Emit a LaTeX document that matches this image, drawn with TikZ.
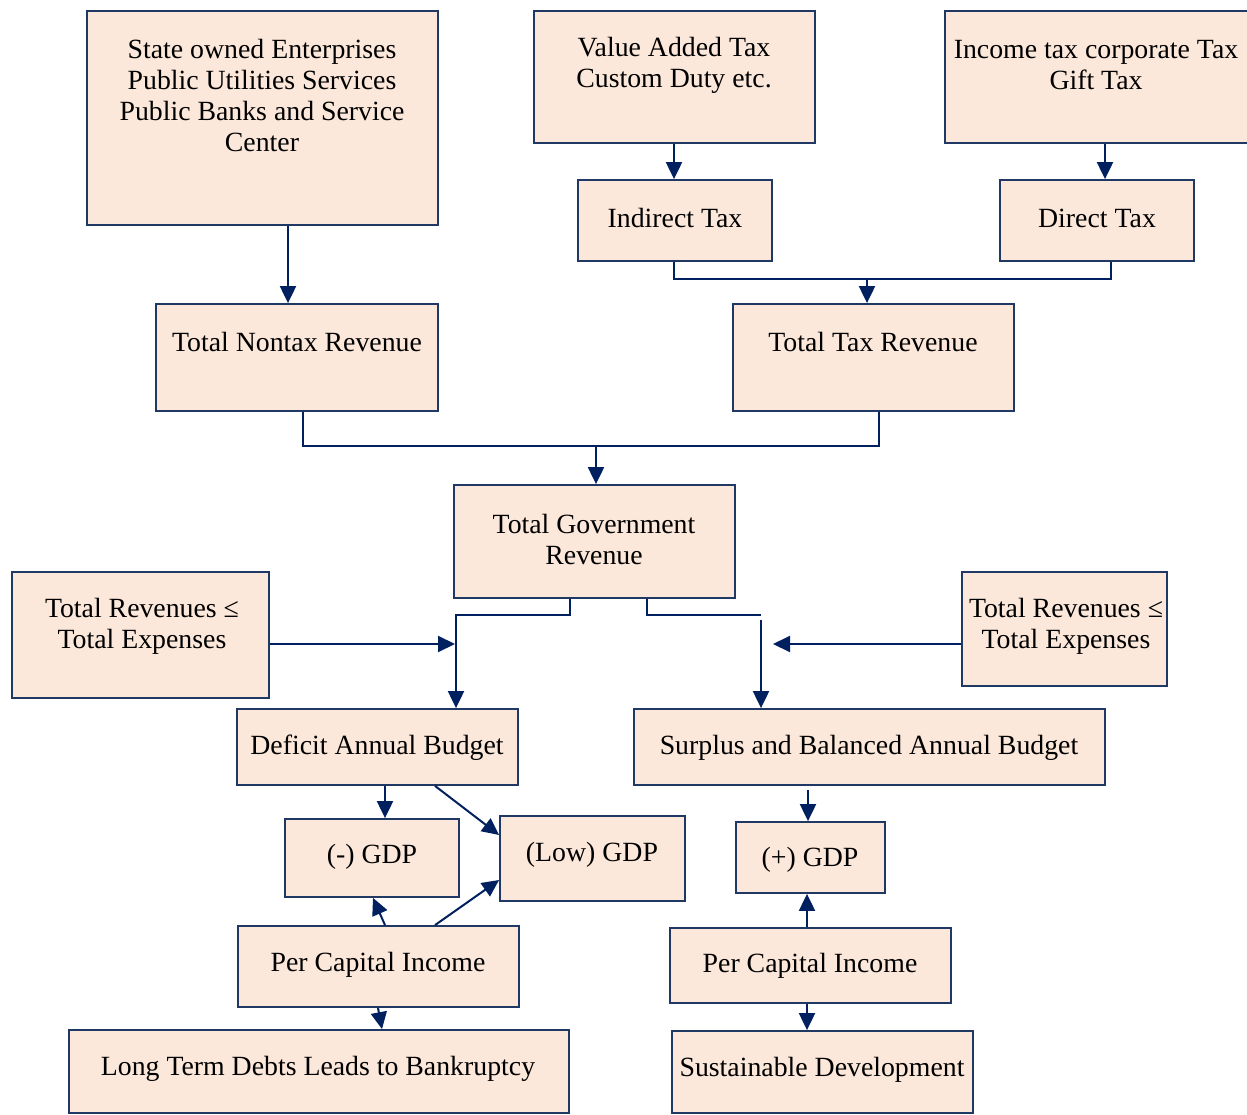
\documentclass[tikz,border=0pt]{standalone}
\usepackage{fontspec}
\setmainfont{Liberation Serif}
\usetikzlibrary{arrows.meta,fit}
\definecolor{boxfill}{HTML}{FCE8DA}
\definecolor{boxline}{HTML}{1F3864}
\definecolor{arrcol}{HTML}{002060}
\begin{document}
\begin{tikzpicture}[x=1pt,y=-1pt,
  boxst/.style={draw=boxline,fill=boxfill,line width=1.8pt,inner sep=0pt,rectangle},
  txt/.style={align=center,font=\fontsize{27.8}{31}\selectfont,inner sep=0pt,text=black},
  conn/.style={draw=arrcol,line width=2pt},
  arr/.style={conn,-{Triangle[length=17pt,width=16pt]}}]
\useasboundingbox (0,0) rectangle (1247,1115);
% boxes
\node[boxst,fit={(87,11) (438,225)}] (soe) {};
\node[boxst,fit={(534,11) (815,143)}] (vat) {};
\node[boxst,fit={(945,11) (1256,143)}] (inc) {};
\node[boxst,fit={(578,180) (772,261)}] (indirect) {};
\node[boxst,fit={(1000,180) (1194,261)}] (direct) {};
\node[boxst,fit={(156,304) (438,411)}] (nontax) {};
\node[boxst,fit={(733,304) (1014,411)}] (taxrev) {};
\node[boxst,fit={(454,485) (735,598)}] (tgr) {};
\node[boxst,fit={(12,572) (269,698)}] (trl) {};
\node[boxst,fit={(962,572) (1167,686)}] (trr) {};
\node[boxst,fit={(237,709) (518,785)}] (deficit) {};
\node[boxst,fit={(634,709) (1105,785)}] (surplus) {};
\node[boxst,fit={(285,819) (459,897)}] (ngdp) {};
\node[boxst,fit={(500,816) (685,901)}] (lowgdp) {};
\node[boxst,fit={(736,822) (885,893)}] (pgdp) {};
\node[boxst,fit={(238,926) (519,1007)}] (pcil) {};
\node[boxst,fit={(670,928) (951,1003)}] (pcir) {};
\node[boxst,fit={(69,1030) (569,1113)}] (longterm) {};
\node[boxst,fit={(672,1031) (973,1113)}] (sust) {};
% texts
\node[txt] (t1) at (262,95) {State owned Enterprises\\Public Utilities Services\\Public Banks and Service\\Center};
\node[txt] (t2) at (674,65) {Value Added Tax\\Custom Duty etc.};
\node[txt] (t3) at (1096,65) {Income tax corporate Tax\\Gift Tax};
\node[txt] (t4) at (675,218) {Indirect Tax};
\node[txt] (t5) at (1097,218) {Direct Tax};
\node[txt] (t6) at (297,342) {Total Nontax Revenue};
\node[txt] (t7) at (873,342) {Total Tax Revenue};
\node[txt] (t8) at (594,539) {Total Government\\Revenue};
\node[txt] (t9) at (142,626) {Total Revenues ≤\\Total Expenses};
\node[txt] (t10) at (1066,626) {Total Revenues ≤\\Total Expenses};
\node[txt] (t11) at (377,748) {Deficit Annual Budget};
\node[txt] (t12) at (869,748) {Surplus and Balanced Annual Budget};
\node[txt] (t13) at (372,857) {(-) GDP};
\node[txt] (t14) at (592,855) {(Low) GDP};
\node[txt] (t15) at (810,860) {(+) GDP};
\node[txt] (t16) at (378,965) {Per Capital Income};
\node[txt] (t17) at (810,966) {Per Capital Income};
\node[txt] (t18) at (318,1069) {Long Term Debts Leads to Bankruptcy};
\node[txt] (t19) at (822,1070) {Sustainable Development};
% junction coordinates
\coordinate (j1) at (867,279);
\coordinate (j2) at (596,446);
\coordinate (j3) at (761,620);
\coordinate (j4) at (455,644);
\coordinate (j5) at (773,644);
% connectors
\draw[arr] (288,0 |- soe.south) -- (288,0 |- nontax.north);
\draw[arr] (674,0 |- vat.south) -- (674,0 |- indirect.north);
\draw[arr] (1105,0 |- inc.south) -- (1105,0 |- direct.north);
\draw[conn] (674,0 |- indirect.south) -- (674,279) -- (1111,279) -- (1111,0 |- direct.south);
\draw[arr] (j1) -- (867,0 |- taxrev.north);
\draw[conn] (303,0 |- nontax.south) -- (303,446) -- (879,446) -- (879,0 |- taxrev.south);
\draw[arr] (j2) -- (596,0 |- tgr.north);
\draw[arr] (570,0 |- tgr.south) -- (570,615) -- (456,615) -- (456,0 |- deficit.north);
\draw[conn] (647,0 |- tgr.south) -- (647,615) -- (761,615);
\draw[arr] (j3) -- (761,0 |- surplus.north);
\draw[arr] (trl.east |- j4) -- (j4);
\draw[arr] (trr.west |- j5) -- (j5);
\draw[arr] (385,0 |- deficit.south) -- (385,0 |- ngdp.north);
\draw[arr] (435,0 |- deficit.south) -- (lowgdp.west |- 0,835);
\draw[arr] (385,0 |- pcil.north) -- (373,0 |- ngdp.south);
\draw[arr] (435,0 |- pcil.north) -- (lowgdp.west |- 0,880);
\draw[arr] (378,0 |- pcil.south) -- (382,0 |- longterm.north);
\draw[arr] (808,790) -- (808,0 |- pgdp.north);
\draw[arr] (807,0 |- pcir.north) -- (807,0 |- pgdp.south);
\draw[arr] (807,0 |- pcir.south) -- (807,0 |- sust.north);
\end{tikzpicture}
\end{document}
